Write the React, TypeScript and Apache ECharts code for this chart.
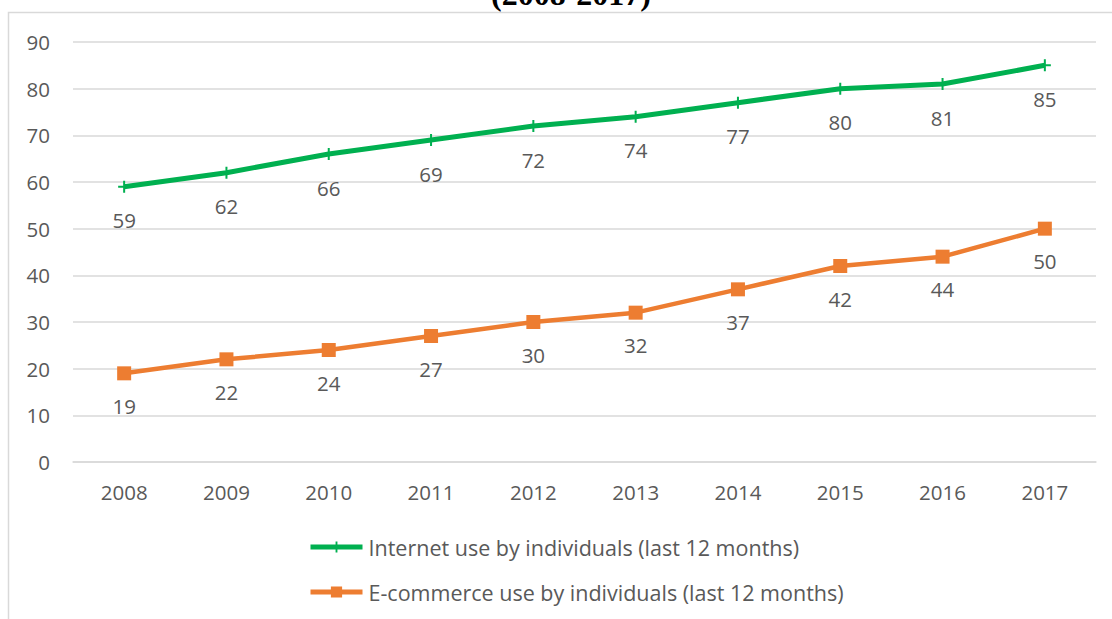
import React, { useEffect, useRef } from "react";
import * as echarts from "echarts";

const years = ["2008", "2009", "2010", "2011", "2012", "2013", "2014", "2015", "2016", "2017"];
const internetUse = [59, 62, 66, 69, 72, 74, 77, 80, 81, 85];
const ecommerceUse = [19, 22, 24, 27, 30, 32, 37, 42, 44, 50];
const seriesNames = [
  "Internet use by individuals (last 12 months)",
  "E-commerce use by individuals (last 12 months)",
];
const titleText = "(2008-2017)";

const FONT = "'Open Sans', 'Liberation Sans', sans-serif";
const TXT = "#595959";
const GRID = "#d9d9d9";
const GREEN = "#00b050";
const ORANGE = "#ed7d31";
const PLUS = "path://M5,0 L7,0 L7,5 L12,5 L12,7 L7,7 L7,12 L5,12 L5,7 L0,7 L0,5 L5,5 Z";
const FS = 20.5;

export default function App() {
  const ref = useRef<HTMLDivElement>(null);
  useEffect(() => {
    document.body.style.margin = "0";
    const chart = echarts.init(ref.current!, null, { renderer: "svg" });
    chart.setOption({
      animation: false,
      backgroundColor: "#ffffff",
      grid: { left: 73, right: 16, top: 42, bottom: 157 },
      graphic: [
        {
          type: "rect",
          shape: { x: 8.5, y: 12.5, width: 1200, height: 700 },
          style: { fill: "none", stroke: GRID, lineWidth: 1.5 },
          silent: true,
        },
        {
          type: "text",
          x: 571,
          y: 10,
          style: {
            text: titleText,
            font: "bold 32px 'Liberation Serif', 'Times New Roman', serif",
            fill: "#000000",
            textAlign: "center",
            textVerticalAlign: "bottom",
          },
        },
      ],
      legend: {
        orient: "vertical",
        left: 303,
        top: 529,
        itemWidth: 52,
        itemHeight: 14,
        itemGap: 19,
        data: [
          { name: seriesNames[0], lineStyle: { width: 5 } },
          { name: seriesNames[1], lineStyle: { width: 5 } },
        ],
        textStyle: { color: TXT, fontSize: 21.5, fontFamily: FONT, lineHeight: 26, padding: [0, 0, 0, 1] },
      },
      xAxis: {
        type: "category",
        data: years,
        boundaryGap: true,
        axisLine: { show: true, lineStyle: { color: GRID, width: 1.5 } },
        axisTick: { show: false },
        axisLabel: { color: TXT, fontSize: FS, fontFamily: FONT, margin: 19 },
      },
      yAxis: {
        type: "value",
        min: 0,
        max: 90,
        interval: 10,
        axisLine: { show: false },
        axisTick: { show: false },
        splitLine: { lineStyle: { color: GRID, width: 1.5 } },
        axisLabel: { color: TXT, fontSize: FS, fontFamily: FONT, margin: 23 },
      },
      series: [
        {
          name: seriesNames[0],
          type: "line",
          data: internetUse,
          symbol: PLUS,
          symbolSize: 12,
          showAllSymbol: true,
          lineStyle: { color: GREEN, width: 5 },
          itemStyle: { color: GREEN },
          label: {
            show: true,
            position: "bottom",
            distance: 17,
            color: TXT,
            fontSize: FS,
            fontFamily: FONT,
          },
        },
        {
          name: seriesNames[1],
          type: "line",
          data: ecommerceUse,
          symbol: "rect",
          symbolSize: 14,
          lineStyle: { color: ORANGE, width: 4.5 },
          itemStyle: { color: ORANGE },
          label: {
            show: true,
            position: "bottom",
            distance: 15,
            color: TXT,
            fontSize: FS,
            fontFamily: FONT,
          },
        },
      ],
    });
    return () => chart.dispose();
  }, []);
  return <div ref={ref} style={{ width: 1112, height: 619 }} />;
}
